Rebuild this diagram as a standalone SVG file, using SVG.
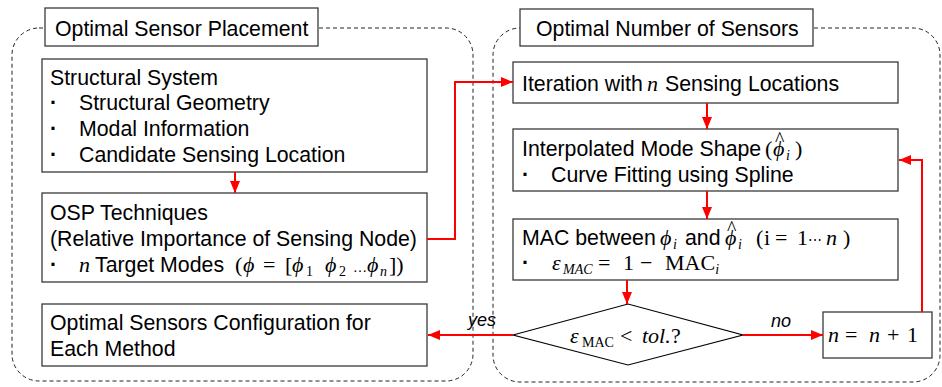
<svg xmlns="http://www.w3.org/2000/svg" width="942" height="387" viewBox="0 0 942 387">
<style>
.box{fill:#fff;stroke:#3a3a3a;stroke-width:1.3}
.cont{fill:none;stroke:#222;stroke-width:1;stroke-dasharray:4 3}
.t{font-family:"Liberation Sans",Arial,sans-serif;font-size:21.3px;fill:#000}
.dot{font-weight:bold}
.m{font-family:"Liberation Serif","Times New Roman",serif;font-style:italic;font-size:22px}
.r{font-family:"Liberation Serif","Times New Roman",serif;font-style:normal;font-size:22px}
.sub{font-size:14px}
.ell{font-size:14px}
.cd{font-family:"DejaVu Serif",serif;font-style:normal;font-size:14px}
.hat{font-family:"Liberation Serif","Times New Roman",serif;font-style:normal;font-size:20px}
.conn{fill:none;stroke:#f00;stroke-width:2}
.lbl{font-family:"Liberation Sans",Arial,sans-serif;font-size:18px;font-style:italic;fill:#000}
</style>
<defs>
<marker id="ah" markerWidth="12" markerHeight="10" refX="12" refY="5" orient="auto" markerUnits="userSpaceOnUse"><path d="M0,0 L12,5 L0,10 z" fill="#f00"/></marker>
</defs>

<g id="containers">
<rect class="cont" x="12" y="28" width="461" height="353" rx="27"/>
<rect class="cont" x="493" y="28" width="447" height="354" rx="27"/>
</g>

<g id="title-osp">
<rect class="box" x="45" y="8" width="273" height="38"/>
<text class="t" x="55" y="36">Optimal Sensor Placement</text>
</g>
<g id="title-num">
<rect class="box" x="520" y="9" width="293" height="37"/>
<text class="t" x="536" y="36">Optimal Number of Sensors</text>
</g>

<g id="structural">
<rect class="box" x="42" y="59" width="385" height="113"/>
<text class="t" x="50" y="85">Structural System</text>
<text class="t" y="110"><tspan x="50" class="dot">·</tspan><tspan x="79">Structural Geometry</tspan></text>
<text class="t" y="136"><tspan x="50" class="dot">·</tspan><tspan x="79">Modal Information</tspan></text>
<text class="t" y="162"><tspan x="50" class="dot">·</tspan><tspan x="79">Candidate Sensing Location</tspan></text>
</g>

<g id="osp">
<rect class="box" x="42" y="193" width="385" height="89"/>
<text class="t" x="50" y="220">OSP Techniques</text>
<text class="t" x="50" y="246">(Relative Importance of Sensing Node)</text>
<text class="t" y="272"><tspan x="50" class="dot">·</tspan><tspan x="79" class="m">n</tspan><tspan x="95">Target Modes</tspan><tspan x="235" class="r">(</tspan><tspan x="243" class="m">ϕ</tspan><tspan x="263" class="r">=</tspan><tspan x="285" class="r">[</tspan><tspan x="292" class="m">ϕ</tspan><tspan x="306" class="r sub" dy="4">1</tspan><tspan x="325" class="m" dy="-4">ϕ</tspan><tspan x="339" class="r sub" dy="4">2</tspan><tspan x="353" class="r ell" dy="-4">…</tspan><tspan x="367" class="m">ϕ</tspan><tspan x="380" class="m sub" dy="4">n</tspan><tspan x="389" class="r" dy="-4">])</tspan></text>
</g>

<g id="config">
<rect class="box" x="42" y="304" width="385" height="62"/>
<text class="t" x="50" y="330">Optimal Sensors Configuration for</text>
<text class="t" x="50" y="356">Each Method</text>
</g>

<g id="iteration">
<rect class="box" x="513" y="62" width="385" height="41"/>
<text class="t" y="91"><tspan x="522">Iteration with</tspan><tspan x="647" class="m">n</tspan><tspan x="665">Sensing Locations</tspan></text>
</g>

<g id="interp">
<rect class="box" x="513" y="129" width="385" height="62"/>
<text class="t" y="156"><tspan x="522">Interpolated Mode Shape</tspan><tspan x="765" class="r">(</tspan><tspan x="773" class="m">ϕ</tspan><tspan x="775" class="hat" dy="-10">^</tspan><tspan x="786" class="m sub" dy="14">i</tspan><tspan x="795" class="r" dy="-4">)</tspan></text>
<text class="t" y="182"><tspan x="522" class="dot">·</tspan><tspan x="551">Curve Fitting using Spline</tspan></text>
</g>

<g id="mac">
<rect class="box" x="513" y="219" width="385" height="61"/>
<text class="t" y="245"><tspan x="522">MAC between</tspan><tspan x="660" class="m">ϕ</tspan><tspan x="673" class="m sub" dy="4">i</tspan><tspan x="685" dy="-4">and</tspan><tspan x="725" class="m">ϕ</tspan><tspan x="727" class="hat" dy="-10">^</tspan><tspan x="738" class="m sub" dy="14">i</tspan><tspan x="756" class="r" dy="-4">(</tspan><tspan x="764" class="r">i</tspan><tspan x="775" class="r">=</tspan><tspan x="797" class="r">1</tspan><tspan x="808" class="cd">⋯</tspan><tspan x="826" class="m">n</tspan><tspan x="843" class="r">)</tspan></text>
<text class="t" y="270"><tspan x="522" class="dot">·</tspan><tspan x="552" class="m">ε</tspan><tspan x="563" class="m sub" dy="4">MAC</tspan><tspan x="598" class="r" dy="-4">=</tspan><tspan x="623" class="r">1</tspan><tspan x="640" class="r">−</tspan><tspan x="665" class="r">MAC</tspan><tspan class="m sub" dy="4">i</tspan></text>
</g>

<g id="decision">
<polygon class="box" points="513,335 628,304 743,335 628,365" style="stroke:#000;stroke-width:1.2"/>
<text class="t" y="343"><tspan x="570" class="m">ε</tspan><tspan x="582" class="r sub" dy="4">MAC</tspan><tspan x="620" class="r" dy="-4">&lt;</tspan><tspan x="642" class="m">tol.</tspan><tspan x="671" class="r">?</tspan></text>
</g>

<g id="increment">
<rect class="box" x="823" y="312" width="109" height="46"/>
<text class="t" y="342"><tspan x="828" class="m">n</tspan><tspan x="845" class="r">=</tspan><tspan x="869" class="m">n</tspan><tspan x="887" class="r">+</tspan><tspan x="907" class="r">1</tspan></text>
</g>

<g id="connectors">
<path class="conn" d="M235,172 V193" marker-end="url(#ah)"/>
<path class="conn" d="M427,239 H455 V82 H513" marker-end="url(#ah)"/>
<path class="conn" d="M707,103 V129" marker-end="url(#ah)"/>
<path class="conn" d="M707,191 V219" marker-end="url(#ah)"/>
<path class="conn" d="M627,280 V304" marker-end="url(#ah)"/>
<path class="conn" d="M743,335 H823" marker-end="url(#ah)"/>
<path class="conn" d="M513,335 H428" marker-end="url(#ah)"/>
<path class="conn" d="M922,312 V160 H899" marker-end="url(#ah)"/>
<text class="lbl" x="468" y="326">yes</text>
<text class="lbl" x="771" y="327">no</text>
</g>
</svg>
